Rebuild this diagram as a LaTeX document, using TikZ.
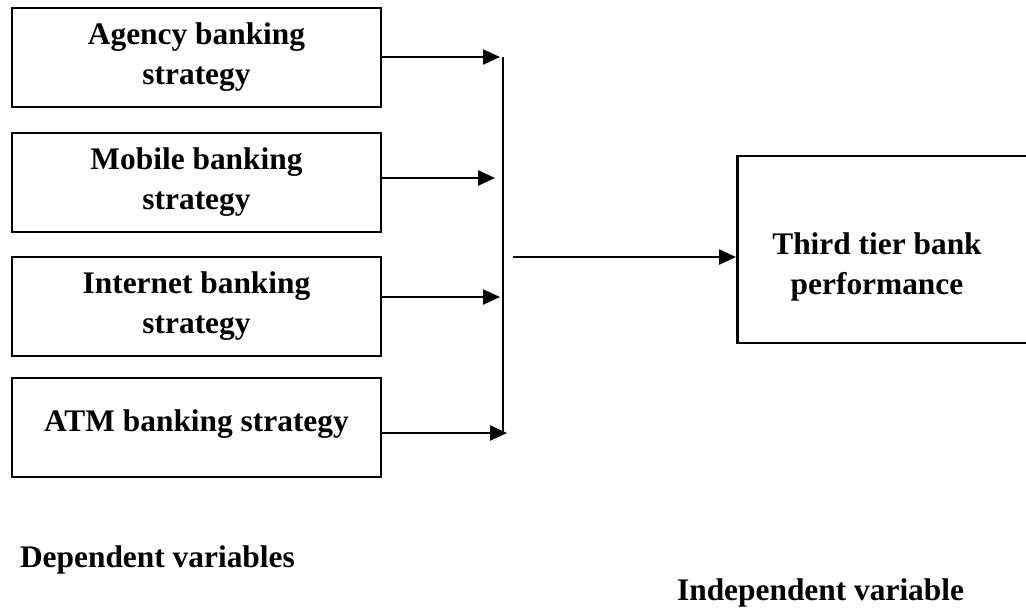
\documentclass[tikz,border=0pt]{standalone}
\usepackage{fontspec}
\setmainfont{Liberation Serif}
\usetikzlibrary{arrows.meta,positioning}

\begin{document}
\begin{tikzpicture}[
  x=0.5pt, y=-0.5pt,
  node distance=11.6pt,
  arr/.style={-{Triangle[length=8.5pt,width=7.5pt]},line width=1.2pt},
  box/.style={draw,line width=1.4pt,minimum width=184.5pt,minimum height=49.5pt,
    align=center,font=\fontsize{15.7}{20}\selectfont\bfseries},
  txt/.style={align=center,font=\fontsize{15.7}{20}\selectfont\bfseries}
]
  \useasboundingbox (0,0) rectangle (1026,611);

  % left column of strategies
  \node[box] (agency) at (196.5,57.5) {Agency banking\\strategy};
  \node[box,below=of agency] (mobile) {Mobile banking\\strategy};
  \node[box,below=11.1pt of mobile] (internet) {Internet banking\\strategy};
  \node[box,below=9.6pt of internet] (atm) {\raisebox{7pt}{ATM banking strategy}};

  % outcome box, its right side runs off the page
  \node[draw,line width=1.4pt,minimum width=150pt,minimum height=93.5pt,anchor=west]
    (perf) at (736,249.5) {};
  \node[txt] (perftext) at (877,267) {Third tier bank\\performance};

  \coordinate (ja) at (500,57);
  \coordinate (jm) at (495,178);
  \coordinate (ji) at (500,297);
  \coordinate (jt) at (507,433);
  \coordinate (top) at (503,57);
  \coordinate (bot) at (503,433);
  \coordinate (out) at (513,257);

  \draw[arr] (agency.east |- ja) -- (ja);
  \draw[arr] (mobile.east |- jm) -- (jm);
  \draw[arr] (internet.east |- ji) -- (ji);
  \draw[arr] (atm.east |- jt) -- (jt);
  \draw[line width=1.2pt] (top) -- (bot);
  \draw[arr] (out) -- (perf.west |- out);

  \node[txt,anchor=west] (dep) at (13,560) {Dependent variables};
  \node[txt,anchor=west] (indep) at (670,593) {Independent variable};
\end{tikzpicture}
\end{document}
